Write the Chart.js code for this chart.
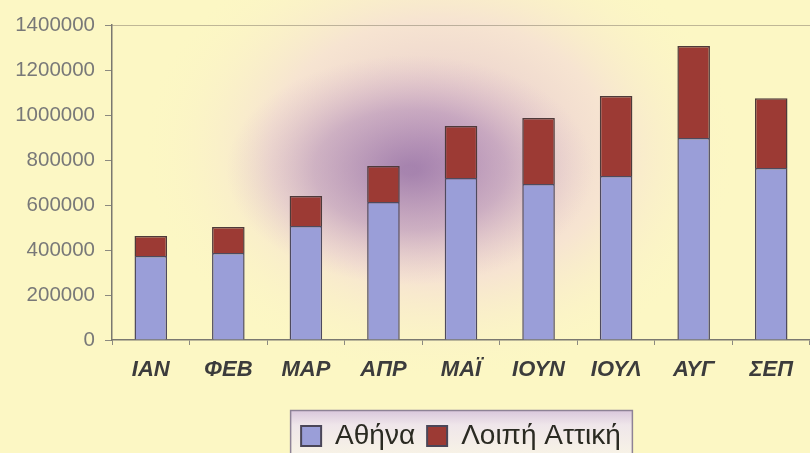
<!DOCTYPE html>
<html><head><meta charset="utf-8">
<script src="https://cdn.jsdelivr.net/npm/chart.js@4/dist/chart.umd.min.js"></script>
<style>html,body{margin:0;padding:0;background:#fcf7c4;}#wrap{width:810px;height:453px;}</style>
</head><body><div id="wrap"><canvas id="c" width="810" height="453"></canvas></div>
<script>
const categories = ["ΙΑΝ","ΦΕΒ","ΜΑΡ","ΑΠΡ","ΜΑΪ","ΙΟΥΝ","ΙΟΥΛ","ΑΥΓ","ΣΕΠ"];
const athina = [373000,387000,507000,613000,720000,693000,729000,898000,764000];
const loipiAttiki = [89000,115000,133000,160000,231000,294000,356000,409000,311000];
const seriesNames = ["Αθήνα","Λοιπή Αττική"];
const yTicks = [0,200000,400000,600000,800000,1000000,1200000,1400000];

const bgPlugin = {
  id:'bg',
  beforeDraw(chart){
    const ctx = chart.ctx, W = chart.width, H = chart.height;
    ctx.save();
    ctx.fillStyle = '#fcf7c4';
    ctx.fillRect(0,0,W,H);
    // soft pinkish halo
    ctx.save();
    ctx.translate(440,150);
    ctx.scale(1.3,1);
    let g = ctx.createRadialGradient(0,0,10,0,0,230);
    g.addColorStop(0,'rgba(205,160,205,0.6)');
    g.addColorStop(0.55,'rgba(240,205,225,0.45)');
    g.addColorStop(1,'rgba(252,247,196,0)');
    ctx.fillStyle = g;
    ctx.beginPath(); ctx.arc(0,0,230,0,Math.PI*2); ctx.fill();
    ctx.restore();
    // darker purple core
    ctx.save();
    ctx.translate(410,170);
    ctx.scale(1.6,1);
    g = ctx.createRadialGradient(0,0,5,0,0,115);
    g.addColorStop(0,'rgba(125,85,155,0.6)');
    g.addColorStop(0.5,'rgba(155,115,175,0.4)');
    g.addColorStop(1,'rgba(200,160,200,0)');
    ctx.fillStyle = g;
    ctx.beginPath(); ctx.arc(0,0,115,0,Math.PI*2); ctx.fill();
    ctx.restore();
    // legend frame
    const lg = chart.legend;
    if(lg && lg.legendHitBoxes && lg.legendHitBoxes.length){
      const hb = lg.legendHitBoxes;
      let minX = Infinity, maxX = -Infinity, minY = Infinity;
      hb.forEach(b=>{minX=Math.min(minX,b.left);maxX=Math.max(maxX,b.left+b.width);minY=Math.min(minY,b.top);});
      const x0 = minX-11, y0 = minY-12, w = (maxX-minX)+22, h = H - y0 + 10;
      const fg = ctx.createLinearGradient(0,y0,0,H);
      fg.addColorStop(0,'#d9c6dc');
      fg.addColorStop(0.35,'#efe6ea');
      fg.addColorStop(1,'#f7f2e6');
      ctx.fillStyle = fg;
      ctx.fillRect(x0,y0,w,h);
      ctx.strokeStyle = '#8e8296';
      ctx.lineWidth = 1.5;
      ctx.strokeRect(x0+0.5,y0+0.5,w,h);
    }
    ctx.restore();
  },
  beforeDatasetsDraw(chart){
    const {ctx, chartArea:a} = chart;
    ctx.save();
    ctx.strokeStyle = 'rgba(150,140,120,0.6)';
    ctx.lineWidth = 1;
    ctx.beginPath();
    ctx.moveTo(a.left, a.top+0.5); ctx.lineTo(a.right, a.top+0.5);
    ctx.stroke();
    ctx.restore();
  }
};

new Chart(document.getElementById('c'), {
  type:'bar',
  data:{
    labels: categories,
    datasets:[
      {label: seriesNames[0], data: athina, backgroundColor:'#9a9ed8', borderColor:'#4e4a5e', borderWidth:1.5, categoryPercentage:1, barPercentage:0.42},
      {label: seriesNames[1], data: loipiAttiki, backgroundColor:'#9c3a34', borderColor:'#4e3a3a', borderWidth:1.5, categoryPercentage:1, barPercentage:0.42}
    ]
  },
  plugins:[bgPlugin],
  options:{
    responsive:false,
    animation:false,
    devicePixelRatio:1,
    layout:{padding:{top:25,right:0,left:0,bottom:-7}},
    plugins:{
      tooltip:{enabled:false},
      legend:{
        position:'bottom',
        fullSize:false,
        labels:{
          color:'#2a2a22',
          font:{family:'"Liberation Sans", Arial, sans-serif', size:28},
          boxWidth:20, boxHeight:20, padding:12,
          generateLabels(chart){
            return chart.data.datasets.map((d,i)=>({text:d.label, fillStyle:d.backgroundColor, strokeStyle:'#4a4658', lineWidth:2, datasetIndex:i, hidden:false, fontColor:'#2a2a22'}));
          }
        }
      }
    },
    scales:{
      x:{
        stacked:true,
        grid:{drawOnChartArea:false, drawTicks:true, tickLength:5, color:'#8c8a80', offset:true},
        border:{display:true, color:'#7a7870', width:1.5},
        ticks:{color:'#3c3c3c', font:{family:'"Liberation Sans", Arial, sans-serif', size:22, weight:'bold', style:'italic'}, padding:12, maxRotation:0},
        afterFit(s){ s.height = 70; }
      },
      y:{
        stacked:true,
        min:0, max:1400000,
        afterBuildTicks(s){ s.ticks = yTicks.map(v=>({value:v})); },
        grid:{drawOnChartArea:false, drawTicks:true, tickLength:7, color:'#8c8a80'},
        border:{display:true, color:'#7a7870', width:1.5},
        ticks:{color:'#787878', font:{family:'"Liberation Sans", Arial, sans-serif', size:20.5}, padding:10, callback:v=>String(v)},
        afterFit(s){ s.width = 112; }
      }
    }
  }
});
</script></body></html>
